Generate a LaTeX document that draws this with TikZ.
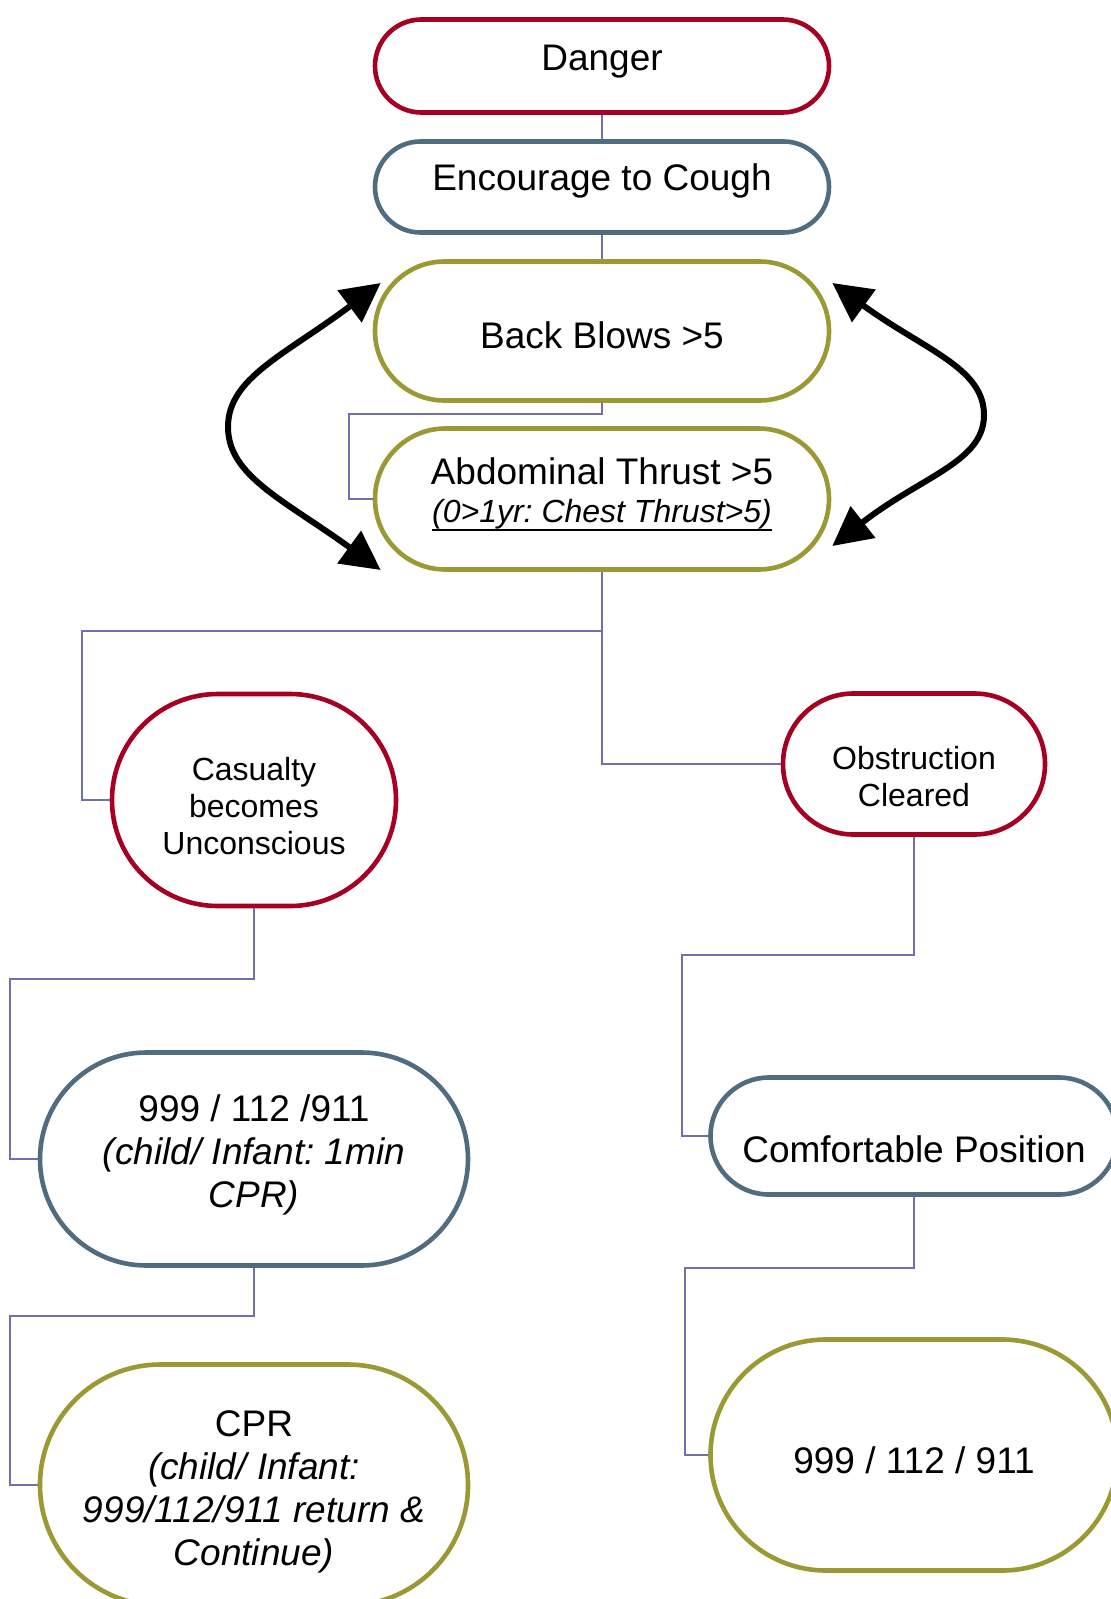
\documentclass[tikz,border=0pt]{standalone}
\usepackage{fontspec}
\setmainfont{Liberation Sans}
\usetikzlibrary{arrows.meta}

\definecolor{dangerred}{RGB}{165,0,33}
\definecolor{slateblue}{RGB}{79,108,128}
\definecolor{stepolive}{RGB}{154,153,51}
\definecolor{linkpurple}{RGB}{112,112,170}

% struts that move the text of a box up or down
\newcommand{\padtop}[1]{\rule{0pt}{#1}}
\newcommand{\padbot}[1]{\rule[-#1]{0pt}{#1}}
\newcommand{\thickunderline}[1]{\vtop{\hbox{#1}\kern-0.5pt\hrule height 1pt}}

\begin{document}
\frenchspacing
\begin{tikzpicture}[x=0.5pt,y=0.5pt,
    stage/.style={rectangle, draw, line width=2.3pt, fill=white, inner sep=0pt, align=center, font=\fontsize{18.5}{21.5}\selectfont},
    smallstage/.style={stage, font=\fontsize{16}{18.4}\selectfont},
    link/.style={draw=linkpurple, line width=1pt},
    swaparrow/.style={{Triangle[length=19.5pt,width=19.5pt]}-{Triangle[length=19.5pt,width=19.5pt]}, line width=3pt}]
        \useasboundingbox (0,0) rectangle (1111,-1599);

        % Main chain
        \node[stage, draw=dangerred, minimum width=227pt, minimum height=46.5pt, rounded corners=23.2pt] (danger) at (602,-66) {Danger\padbot{7.9pt}};
        \node[stage, draw=slateblue, minimum width=227pt, minimum height=45.5pt, rounded corners=22.7pt] (encourage) at (602,-187) {Encourage to Cough\padbot{9.9pt}};
        \node[stage, draw=stepolive, minimum width=227pt, minimum height=69.5pt, rounded corners=34.7pt] (backblows) at (602,-331) {\padtop{17.75pt}Back Blows >5};
        \node[stage, draw=stepolive, minimum width=227pt, minimum height=70.5pt, rounded corners=35.2pt] (abdominal) at (602,-499) {Abdominal Thrust >5\\[-2.5pt]{\fontsize{16}{18.4}\selectfont\itshape\thickunderline{(0>1yr: Chest Thrust>5)}\padbot{8.5pt}}};

        % Left branch
        \node[smallstage, draw=dangerred, minimum width=142pt, minimum height=106pt, rounded corners=52.9pt] (casualty) at (254,-800) {\padtop{17.5pt}Casualty\\becomes\\Unconscious};
        \node[stage, draw=slateblue, minimum width=214pt, minimum height=106.5pt, rounded corners=53.2pt] (call) at (254,-1159) {999 / 112 /911\\\textit{(child/ Infant: 1min}\\\textit{CPR)}\padbot{7.9pt}};
        \node[stage, draw=stepolive, minimum width=214pt, minimum height=120.5pt, rounded corners=60.2pt] (cpr) at (254,-1485) {\padtop{19.75pt}CPR\\\textit{(child/ Infant:}\\\textit{999/112/911 return \&}\\\textit{Continue)}};

        % Right branch
        \node[smallstage, draw=dangerred, minimum width=131pt, minimum height=70.5pt, rounded corners=35.2pt] (obstruct) at (914,-764) {\padtop{24.2pt}Obstruction\\Cleared};
        \node[stage, draw=slateblue, minimum width=203.5pt, minimum height=58.5pt, rounded corners=29.2pt] (comfort) at (914,-1136) {\padtop{26.5pt}Comfortable Position};
        \node[stage, draw=stepolive, minimum width=203.5pt, minimum height=115.5pt, rounded corners=57.7pt] (final) at (914,-1455) {\padtop{18.25pt}999 / 112 / 911};

        % Connectors
        \draw[link] (danger) -- (encourage);
        \draw[link] (encourage) -- (backblows);
        \draw[link] (backblows.south) -- ++(0,-11) -| ([xshift=-12pt]abdominal.west) -- (abdominal.west);
        \draw[link] (abdominal.south) -- ++(0,-59) coordinate (split) -| ([xshift=-14pt]casualty.west) -- (casualty.west);
        \draw[link] (split) |- (obstruct.west);
        \draw[link] (casualty.south) -- ++(0,-71) -| ([xshift=-14pt]call.west) -- (call.west);
        \draw[link] (call.south) -- ++(0,-48) -| ([xshift=-14pt]cpr.west) -- (cpr.west);
        \draw[link] (obstruct.south) -- ++(0,-118) -| ([xshift=-13pt]comfort.west) -- (comfort.west);
        \draw[link] (comfort.south) -- ++(0,-71) -| ([xshift=-11.5pt]final.west) -- (final.west);

        % Repeat loops
        \coordinate (leftturn) at (228,-427);
        \coordinate (rightturn) at (984,-415);
        \draw[swaparrow] ([shift={(4pt,24pt)}]backblows.west) to[out=217, in=90, out looseness=1.45, in looseness=0.6] (leftturn)
            to[out=-90, in=144, out looseness=0.6, in looseness=1.45] ([shift={(4pt,-35.5pt)}]abdominal.west);
        \draw[swaparrow] ([shift={(0.5pt,24pt)}]backblows.east) to[out=-36, in=90, out looseness=1.45, in looseness=0.6] (rightturn)
            to[out=-90, in=38, out looseness=0.6, in looseness=1.45] ([shift={(0.5pt,-23.5pt)}]abdominal.east);
\end{tikzpicture}
\end{document}
